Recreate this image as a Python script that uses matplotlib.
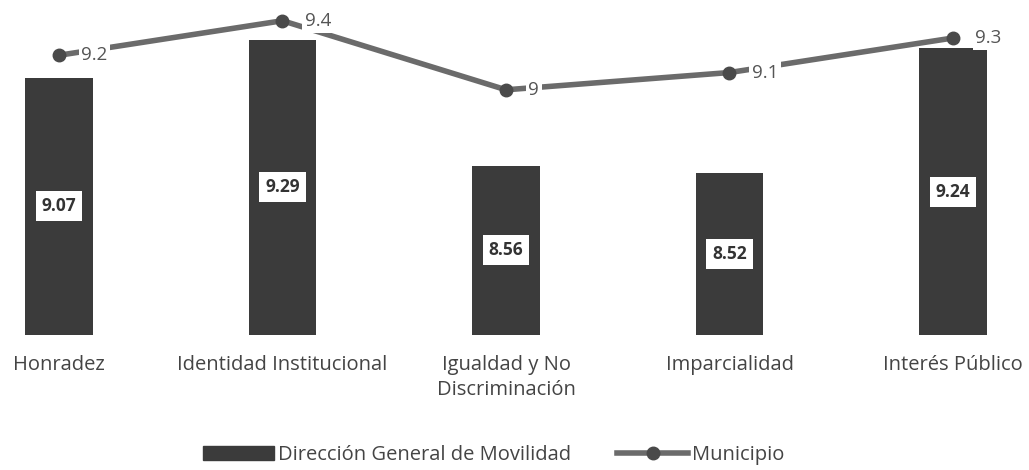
import matplotlib.pyplot as plt
import numpy as np
from matplotlib.lines import Line2D
from matplotlib.patches import Patch

plt.rcParams['font.family'] = ['Open Sans', 'DejaVu Sans']

categorias = ['Honradez', 'Identidad Institucional', 'Igualdad y No\nDiscriminación',
              'Imparcialidad', 'Interés Público']
direccion = [9.07, 9.29, 8.56, 8.52, 9.24]
municipio = [9.2, 9.4, 9.0, 9.1, 9.3]
municipio_txt = ['9.2', '9.4', '9', '9.1', '9.3']

bar_color = '#3b3b3b'
line_color = '#6b6b6b'
base = 7.58

fig = plt.figure(figsize=(10.29, 4.70), dpi=100)
ax = fig.add_axes([0, 1 - 335 / 470, 1, 335 / 470])

x = np.arange(len(categorias))
ax.bar(x, np.array(direccion) - base, bottom=base, width=0.30, color=bar_color)
ax.plot(x, municipio, color=line_color, linewidth=4, marker='o', markersize=9,
        markerfacecolor='#4a4a4a', markeredgecolor='#4a4a4a')

for xi, v in zip(x, direccion):
    ax.text(xi, (base + v) / 2, '%.2f' % v, ha='center', va='center', fontsize=12.5,
            fontweight='bold', color='#333333',
            bbox=dict(boxstyle='square,pad=0.35', fc='white', ec='none'))

for xi, v, t in zip(x, municipio, municipio_txt):
    ax.text(xi + 0.1, v, t, ha='left', va='center', fontsize=13.5, color='#555555',
            bbox=dict(boxstyle='square,pad=0.15', fc='white', ec='none'))

ax.set_xlim(-59 / 223.5, 4 + 76 / 223.5)
ax.set_ylim(base, 9.52)
ax.axis('off')

for xi, c in zip(x, categorias):
    fig.text((xi + 59 / 223.5) / (4 + 76 / 223.5 + 59 / 223.5), 1 - 355 / 470, c,
             ha='center', va='top', fontsize=14.5, color='#444444', linespacing=1.35)

handles = [Patch(color=bar_color),
           Line2D([0], [0], color=line_color, linewidth=4, marker='o', markersize=9,
                  markerfacecolor='#4a4a4a', markeredgecolor='#4a4a4a')]
fig.legend(handles, ['Dirección General de Movilidad', 'Municipio'], loc='center',
           bbox_to_anchor=(0.48, 1 - 455 / 470), ncol=2, frameon=False, fontsize=14.5,
           handlelength=3.5, handletextpad=0.2, columnspacing=2.3,
           labelcolor='#444444')

fig.savefig('out.png', dpi=100)
